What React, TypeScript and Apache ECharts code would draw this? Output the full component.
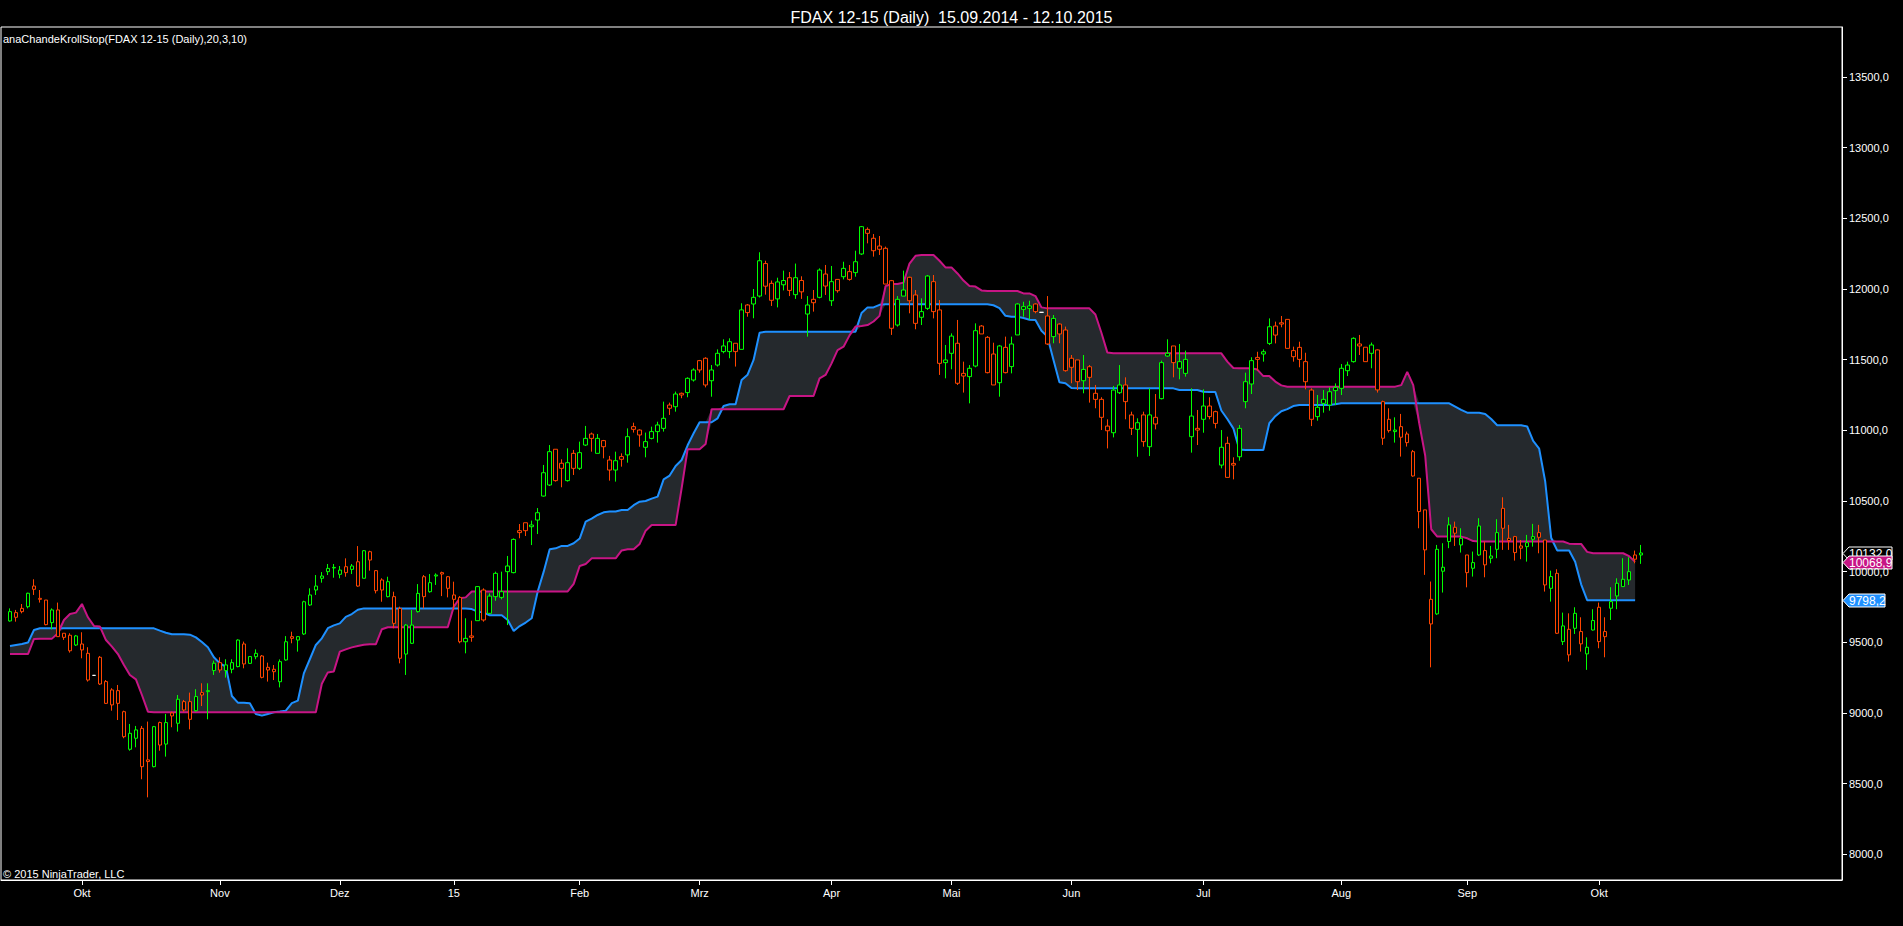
import React, { useEffect, useRef } from "react";
import * as echarts from "echarts";

const TITLE = "FDAX 12-15 (Daily)  15.09.2014 - 12.10.2015";
const INDICATOR_LABEL = "anaChandeKrollStop(FDAX 12-15 (Daily),20,3,10)";
const COPYRIGHT = "\u00a9 2015 NinjaTrader, LLC";

// trading calendar
const FIRST_DAY = [2014, 8, 15];
const LAST_DAY = [2015, 9, 12];
const HOLIDAYS = ["2014-12-24", "2014-12-25", "2014-12-26", "2014-12-31", "2015-01-01", "2015-04-03", "2015-04-06", "2015-05-01"];
// month tick labels (January shows the year)
const MONTH_LABELS = ["15", "Feb", "Mrz", "Apr", "Mai", "Jun", "Jul", "Aug", "Sep", "Okt", "Nov", "Dez"];
const PRICE_TICKS = [8000, 8500, 9000, 9500, 10000, 10500, 11000, 11500, 12000, 12500, 13000, 13500];

// candles: [open, close, low, high]
const sep14 = [
  [9651, 9717, 9646, 9740], [9710, 9677, 9646, 9729], [9740, 9717, 9705, 9771], [9752, 9847, 9740, 9851],
  [9898, 9875, 9835, 9946], [9811, 9804, 9781, 9870], [9799, 9625, 9620, 9799], [9639, 9729, 9592, 9740],
  [9729, 9540, 9540, 9781], [9564, 9535, 9517, 9564], [9550, 9440, 9427, 9564], [9481, 9545, 9474, 9552],
];
const oct14 = [
  [9488, 9446, 9387, 9571], [9422, 9233, 9222, 9465], [9266, 9266, 9264, 9268], [9394, 9205, 9198, 9403],
  [9222, 9068, 9064, 9233], [9163, 9057, 9016, 9175], [9158, 9068, 8950, 9198], [9009, 8832, 8821, 9016],
  [8743, 8856, 8733, 8922], [8821, 8880, 8757, 8908], [8891, 8620, 8531, 8908], [8668, 8656, 8403, 8939],
  [8620, 8903, 8615, 8908], [8932, 8773, 8733, 8939], [8780, 8932, 8691, 8993], [9000, 8979, 8899, 9009],
  [8927, 9097, 8868, 9127], [9080, 9021, 9009, 9092], [9080, 8955, 8884, 9144], [9016, 9116, 9009, 9168],
  [9144, 9127, 9049, 9210], [9151, 9158, 8955, 9210], [9300, 9352, 9269, 9370],
];
const nov14 = [
  [9356, 9304, 9285, 9394], [9300, 9340, 9250, 9380], [9309, 9356, 9281, 9380], [9328, 9516, 9323, 9521],
  [9488, 9347, 9316, 9505], [9351, 9399, 9347, 9403], [9398, 9422, 9380, 9450], [9403, 9252, 9245, 9410],
  [9323, 9304, 9222, 9356], [9309, 9292, 9233, 9339], [9221, 9363, 9181, 9379], [9375, 9504, 9370, 9544],
  [9540, 9528, 9493, 9575], [9516, 9540, 9434, 9544], [9559, 9787, 9552, 9794], [9764, 9835, 9757, 9882],
  [9870, 9898, 9835, 9976], [9953, 9969, 9922, 9997], [10000, 10023, 9976, 10054], [10026, 10030, 9957, 10054],
];
const dec14 = [
  [9981, 10011, 9953, 10040], [10035, 9993, 9964, 10094], [10016, 10040, 9983, 10054], [10070, 9898, 9893, 10181],
  [9953, 10148, 9953, 10153], [10141, 10082, 10007, 10148], [10007, 9865, 9846, 10011], [9941, 9870, 9787, 9953],
  [9823, 9929, 9818, 9964], [9823, 9634, 9599, 9858], [9740, 9387, 9351, 9752], [9417, 9622, 9269, 9629],
  [9493, 9622, 9488, 9728], [9717, 9846, 9710, 9912], [9964, 9823, 9740, 9976], [9858, 9922, 9851, 9983],
  [9969, 9976, 9906, 9988], [9993, 9983, 9827, 10000], [9964, 9882, 9818, 9969],
];
const jan15 = [
  [9835, 9804, 9729, 9929], [9818, 9504, 9493, 9827], [9504, 9528, 9422, 9670], [9545, 9535, 9504, 9653],
  [9653, 9894, 9653, 9898], [9870, 9658, 9646, 9882], [9705, 9827, 9700, 9846], [9823, 9988, 9794, 10000],
  [9818, 9858, 9804, 10000], [10000, 10040, 9622, 10111], [9993, 10228, 9988, 10235], [10290, 10276, 10236, 10337],
  [10346, 10290, 10252, 10346], [10318, 10330, 10188, 10361], [10365, 10417, 10266, 10450], [10535, 10700, 10531, 10755],
  [10613, 10849, 10606, 10896], [10866, 10644, 10637, 10866], [10767, 10731, 10597, 10795], [10644, 10771, 10637, 10873],
  [10837, 10731, 10684, 10861],
];
const feb15 = [
  [10731, 10842, 10719, 10920], [10896, 10943, 10889, 11031], [10974, 10943, 10849, 10984], [10837, 10943, 10837, 10974],
  [10927, 10884, 10802, 10932], [10790, 10719, 10644, 10819], [10719, 10785, 10637, 10849], [10814, 10795, 10743, 10837],
  [10826, 10955, 10771, 11014], [11026, 11007, 10984, 11054], [11002, 10967, 10884, 11007], [10880, 10920, 10809, 10984],
  [10943, 10991, 10936, 11026], [10991, 11038, 10913, 11061], [11014, 11085, 10991, 11203], [11179, 11156, 11109, 11196],
  [11167, 11257, 11132, 11274], [11262, 11250, 11227, 11267], [11267, 11368, 11234, 11375], [11356, 11427, 11345, 11439],
];
const mar15 = [
  [11493, 11427, 11408, 11498], [11510, 11321, 11304, 11517], [11351, 11427, 11238, 11462], [11462, 11545, 11451, 11573],
  [11557, 11597, 11545, 11644], [11557, 11627, 11510, 11651], [11616, 11557, 11451, 11616], [11573, 11852, 11573, 11899],
  [11887, 11833, 11804, 11894], [11894, 11941, 11793, 12000], [11950, 12200, 11940, 12260], [12180, 12020, 11960, 12200],
  [12040, 11920, 11880, 12060], [11930, 12050, 11870, 12080], [12030, 12060, 11990, 12130], [12080, 11990, 11950, 12120],
  [11960, 12080, 11930, 12180], [12060, 11980, 11930, 12090], [11823, 11887, 11663, 11950], [11927, 11903, 11840, 11993],
  [11941, 12134, 11934, 12146], [12106, 12021, 11958, 12170],
];
const apr15 = [
  [11917, 12052, 11880, 12163], [12068, 11988, 11974, 12068], [12087, 12146, 12068, 12193], [12123, 12068, 12059, 12170],
  [12116, 12193, 12087, 12271], [12248, 12441, 12241, 12446], [12422, 12394, 12323, 12436], [12359, 12271, 12229, 12389],
  [12304, 12281, 12241, 12375], [12288, 12035, 12035, 12300], [12059, 11722, 11675, 12064], [11745, 11927, 11734, 11950],
  [11950, 11993, 11950, 12130], [12083, 11917, 11828, 12087], [11958, 11757, 11715, 11993], [11800, 11840, 11745, 11934],
  [11863, 12092, 11852, 12099], [12052, 11840, 11792, 12099], [11852, 11474, 11392, 11922], [11479, 11498, 11368, 11604],
];
const may15 = [
  [11545, 11667, 11432, 11686], [11616, 11333, 11321, 11781], [11403, 11384, 11267, 11486], [11380, 11439, 11191, 11462],
  [11455, 11705, 11446, 11757], [11738, 11682, 11682, 11745], [11658, 11408, 11403, 11667], [11540, 11321, 11321, 11620],
  [11337, 11597, 11238, 11604], [11587, 11408, 11403, 11663], [11451, 11611, 11403, 11663], [11675, 11894, 11675, 11899],
  [11856, 11875, 11804, 11910], [11863, 11880, 11785, 11917], [11894, 11840, 11828, 11899], [11835, 11835, 11833, 11837],
  [11809, 11611, 11604, 11950], [11663, 11792, 11616, 11816], [11752, 11682, 11616, 11757], [11710, 11422, 11415, 11734],
];
const jun15 = [
  [11510, 11446, 11333, 11533], [11498, 11344, 11285, 11498], [11351, 11431, 11262, 11533], [11450, 11375, 11196, 11462],
  [11262, 11219, 11156, 11321], [11219, 11092, 11002, 11234], [11030, 10997, 10872, 11078], [10983, 11285, 10950, 11314],
  [11266, 11321, 11257, 11462], [11321, 11203, 11078, 11375], [11109, 11014, 10967, 11132], [11007, 11054, 10813, 11085],
  [11109, 10920, 10884, 11132], [10884, 11109, 10818, 11297], [11092, 11045, 11007, 11257], [11224, 11479, 11219, 11493],
  [11526, 11545, 11521, 11644], [11597, 11479, 11375, 11597], [11439, 11486, 11361, 11611], [11403, 11502, 11380, 11564],
  [10955, 11101, 10842, 11297], [11014, 11002, 10896, 11144],
];
const jul15 = [
  [11078, 11172, 10983, 11290], [11172, 11097, 11078, 11234], [11132, 11049, 11014, 11139], [10754, 10880, 10731, 11002],
  [10908, 10667, 10667, 10955], [10766, 10754, 10653, 10809], [10813, 11014, 10785, 11038], [11203, 11344, 11156, 11408],
  [11328, 11493, 11257, 11517], [11516, 11502, 11422, 11556], [11540, 11556, 11486, 11573], [11615, 11733, 11604, 11792],
  [11738, 11674, 11615, 11769], [11761, 11752, 11729, 11809], [11785, 11580, 11580, 11785], [11564, 11521, 11486, 11592],
  [11587, 11502, 11446, 11627], [11486, 11344, 11290, 11549], [11285, 11078, 11030, 11297], [11097, 11163, 11068, 11250],
  [11191, 11219, 11125, 11285], [11179, 11273, 11139, 11304], [11281, 11304, 11179, 11332],
];
const aug15 = [
  [11297, 11439, 11250, 11469], [11422, 11462, 11384, 11486], [11486, 11651, 11479, 11658], [11611, 11597, 11533, 11675],
  [11588, 11486, 11486, 11588], [11545, 11604, 11439, 11621], [11569, 11286, 11267, 11573], [11203, 10944, 10897, 11210],
  [11078, 10998, 10984, 11156], [10991, 11002, 10913, 11092], [11026, 10951, 10814, 11116], [10974, 10913, 10885, 10991],
  [10849, 10677, 10672, 10861], [10661, 10425, 10307, 10661], [10437, 10154, 9977, 10437], [9804, 9630, 9323, 9930],
  [9701, 10158, 9694, 10189], [10003, 10031, 9852, 10201], [10213, 10331, 10166, 10385], [10314, 10272, 10182, 10354],
  [10189, 10236, 10135, 10307],
];
const sep15 = [
  [10118, 9993, 9889, 10118], [10024, 10064, 9965, 10142], [10118, 10323, 10111, 10378], [10149, 10048, 9960, 10213],
  [10095, 10111, 10059, 10182], [10158, 10276, 10095, 10371], [10448, 10307, 10154, 10526], [10236, 10220, 10154, 10331],
  [10248, 10135, 10078, 10253], [10182, 10166, 10088, 10224], [10177, 10205, 10071, 10260], [10229, 10248, 10177, 10338],
  [10276, 10243, 10130, 10331], [10224, 9906, 9859, 10224], [9882, 9965, 9788, 10007], [9988, 9564, 9559, 10017],
  [9505, 9616, 9481, 9710], [9592, 9411, 9364, 9705], [9599, 9705, 9559, 9748], [9576, 9489, 9434, 9677],
  [9418, 9465, 9305, 9535], [9587, 9654, 9583, 9734],
];
const oct15 = [
  [9748, 9505, 9458, 9781], [9576, 9540, 9394, 9677], [9741, 9788, 9658, 9890], [9828, 9918, 9734, 9953],
  [9894, 9946, 9894, 10095], [9941, 10000, 9906, 10102], [10118, 10088, 10059, 10149], [10118, 10132, 10055, 10189],
];

// Chande Kroll stop lines (one value per bar, up to the bar before last)
const stopBlue = [
  9474, 9481, 9488, 9498, 9587,
  9599, 9599, 9599, 9599, 9599, 9599, 9599, 9599, 9599, 9599, 9599, 9599, 9599, 9599, 9599, 9599, 9599, 9599, 9599, 9599,
  9583, 9568, 9557, 9557, 9557, 9554, 9535, 9502, 9465, 9394, 9351, 9328,
  9120, 9073, 9073, 9068, 8993, 8981, 8993, 9005, 9010, 9016, 9070, 9087,
  9280, 9380, 9481, 9528, 9600, 9620, 9634, 9680, 9700, 9730,
  9740, 9740, 9740, 9740, 9740, 9740, 9740, 9740, 9740, 9740, 9740, 9740, 9740, 9740, 9740, 9740, 9740, 9740,
  9735, 9717, 9710, 9691, 9691, 9691, 9658, 9580, 9615, 9640, 9670, 9860,
  10000, 10158, 10165, 10182, 10182, 10201, 10234, 10354, 10375, 10401, 10420, 10425,
  10425, 10436, 10436, 10470, 10495, 10500, 10517, 10531, 10653, 10680, 10748, 10790,
  10894, 10979, 11057, 11057, 11057, 11085, 11172, 11184, 11184, 11356, 11394, 11498, 11691,
  11698, 11698, 11698, 11698, 11698, 11698, 11698, 11698, 11698, 11698, 11698, 11698, 11698, 11698, 11698, 11698,
  11830, 11870, 11870, 11888,
  11892, 11892, 11892, 11892, 11892, 11892, 11892, 11892, 11892, 11892, 11892, 11892, 11892, 11892, 11892, 11892, 11892, 11892,
  11885, 11865, 11810, 11804, 11804, 11795, 11783, 11781, 11705, 11663, 11500, 11340, 11333, 11300,
  11297, 11297, 11297, 11297, 11297, 11297, 11297, 11297, 11297, 11297, 11297, 11297, 11297, 11297, 11297, 11297, 11297,
  11285, 11285, 11285, 11285,
  11273, 11271, 11271, 11140, 11080, 11014, 10865,
  10861, 10861, 10861, 10861,
  11050, 11100, 11135, 11150, 11172,
  11179, 11179, 11179, 11179, 11179, 11179,
  11185,
  11191, 11191, 11191, 11191, 11191, 11191, 11191, 11191, 11191, 11191, 11191, 11191, 11191, 11191, 11191, 11191, 11191, 11191, 11191,
  11168, 11145, 11125, 11125, 11125, 11116, 11080,
  11036, 11036, 11036, 11036, 11036,
  11027, 10925, 10870, 10640, 10240, 10150, 10149, 10149, 10070, 9910,
  9798.2, 9798.2, 9798.2, 9798.2, 9798.2, 9798.2, 9798.2, 9798.2, 9798.2,
];
const stopMagenta = [
  9417, 9417, 9417, 9417,
  9524, 9526, 9526, 9526,
  9564, 9658, 9700, 9710, 9771, 9677, 9616, 9611, 9516, 9469, 9417, 9340, 9269, 9238, 9127, 9009,
  9005, 9005, 9005, 9005, 9005, 9005, 9005, 9005, 9005, 9005, 9005, 9005, 9005, 9005,
  9005, 9005, 9005, 9005, 9005, 9005, 9005, 9005, 9005, 9005, 9005, 9005, 9005, 9005,
  9207, 9287, 9294, 9434, 9450, 9464, 9474, 9483, 9486, 9486, 9592,
  9606, 9606, 9606, 9606, 9606, 9606, 9606, 9606, 9606, 9606, 9606,
  9752, 9811, 9818,
  9860, 9860, 9860, 9860, 9860, 9860, 9860, 9860, 9860, 9860, 9860, 9860, 9860, 9860, 9860, 9860, 9860,
  9913, 10040, 10054, 10094, 10094, 10094, 10094, 10094, 10150, 10158, 10158, 10196, 10290,
  10330, 10330, 10330, 10330, 10330,
  10590, 10866, 10866, 10866, 10903,
  11149, 11149, 11149, 11149, 11149, 11149, 11149, 11149, 11149, 11149, 11149, 11149, 11149,
  11243, 11243, 11243, 11243, 11243,
  11368, 11392, 11474, 11568, 11592, 11672, 11734, 11738, 11745, 11770, 11810, 12020, 12035, 12035, 12045, 12180, 12235,
  12241, 12241, 12241,
  12200, 12153, 12153, 12110, 12060, 12021, 12017, 11990,
  11986, 11986, 11986, 11986, 11986, 11986,
  11969, 11969, 11950, 11870,
  11863, 11863, 11863, 11863, 11863, 11863, 11863, 11863,
  11820, 11690, 11550,
  11545, 11545, 11545, 11545, 11545, 11545, 11545, 11545, 11545, 11545, 11545, 11545, 11545, 11545, 11545, 11545, 11545, 11545, 11545,
  11486, 11441, 11439, 11439, 11439, 11430, 11384, 11384, 11345, 11318,
  11309, 11309, 11309, 11309, 11309, 11309, 11309, 11309, 11309, 11309, 11309, 11309, 11309, 11309, 11309, 11309, 11309, 11309, 11309,
  11320, 11413, 11320, 11050, 10820, 10300,
  10248, 10248, 10248, 10248, 10248,
  10236, 10216,
  10213, 10213, 10213, 10213, 10213, 10213, 10213, 10213, 10213, 10213, 10213, 10213, 10213, 10213, 10213,
  10198, 10196, 10196, 10140,
  10130, 10130, 10130, 10130, 10130, 10130,
  10110, 10068.9,
];

const FONT = "Arial, 'Liberation Sans', sans-serif";
const UP = "#00ff00";
const DOWN = "#ff4500";
const BLUE = "#1e90ff";
const MAGENTA = "#c71585";
const BAND = "#25292d";
const LEAD = 1;
const TRAIL = 33;

function tradingDays(): string[] {
  const out: string[] = [];
  const d = new Date(Date.UTC(FIRST_DAY[0], FIRST_DAY[1], FIRST_DAY[2]));
  const end = Date.UTC(LAST_DAY[0], LAST_DAY[1], LAST_DAY[2]);
  while (d.getTime() <= end) {
    const wd = d.getUTCDay();
    const s = d.toISOString().slice(0, 10);
    if (wd !== 0 && wd !== 6 && HOLIDAYS.indexOf(s) < 0) out.push(s);
    d.setUTCDate(d.getUTCDate() + 1);
  }
  return out;
}

const fmt = (v: number) => v.toFixed(1).replace(".", ",");

export default function App() {
  const ref = useRef<HTMLDivElement>(null);
  useEffect(() => {
    if (!ref.current) return;
    const chart = echarts.init(ref.current, undefined, { renderer: "svg" });
    const days = tradingDays();
    const candles = [...sep14, ...oct14, ...nov14, ...dec14, ...jan15, ...feb15, ...mar15, ...apr15, ...may15, ...jun15, ...jul15, ...aug15, ...sep15, ...oct15];
    const categories: string[] = [];
    for (let k = 0; k < LEAD; k++) categories.push("lead" + k);
    days.forEach((d) => categories.push(d));
    for (let k = 0; k < TRAIL; k++) categories.push("pad" + k);

    const monthStart: boolean[] = categories.map((c, i) => {
      const di = i - LEAD;
      if (di <= 0 || di >= days.length) return false;
      return days[di].slice(5, 7) !== days[di - 1].slice(5, 7);
    });
    const monthLabel = (i: number) => {
      const d = days[i - LEAD];
      return d ? MONTH_LABELS[parseInt(d.slice(5, 7), 10) - 1] : "";
    };

    const candleData = candles.map((c, i) => [i + LEAD, c[0], c[1], c[2], c[3]]);
    const blueData = stopBlue.map((v, i) => [i + LEAD, v]);
    const magData = stopMagenta.map((v, i) => [i + LEAD, v]);
    const baseData = stopBlue.map((v, i) => [i + LEAD, Math.min(v, stopMagenta[i])]);
    const bandData = stopBlue.map((v, i) => [i + LEAD, Math.abs(v - stopMagenta[i])]);

    const lastClose = candles[candles.length - 1][1];
    const lastBlue = stopBlue[stopBlue.length - 1];
    const lastMag = stopMagenta[stopMagenta.length - 1];

    const Y_MIN = 7818;
    const Y_MAX = 13854;

    const textGraphics = [
      {
        id: "indicatorLabel",
        type: "text",
        left: 3,
        top: 33,
        style: { text: INDICATOR_LABEL, fill: "#fff", fontSize: 11, fontFamily: FONT },
      },
      {
        id: "copyright",
        type: "text",
        left: 3,
        top: 868,
        style: { text: COPYRIGHT, fill: "#fff", fontSize: 11, fontFamily: FONT },
      },
    ];

    chart.setOption({
      animation: false,
      backgroundColor: "#000",
      textStyle: { fontFamily: FONT },
      title: {
        text: TITLE,
        left: "center",
        top: 4,
        textStyle: { color: "#fff", fontSize: 16, fontWeight: "normal", fontFamily: FONT },
      },
      grid: {
        left: 1,
        top: 27,
        width: 1841,
        height: 853,
        show: true,
        borderColor: "#ffffff",
        borderWidth: 1,
        backgroundColor: "#000",
      },
      xAxis: {
        type: "category",
        data: categories,
        boundaryGap: true,
        axisLine: { show: true, lineStyle: { color: "#fff", width: 1 } },
        axisTick: {
          show: true,
          alignWithLabel: true,
          length: 5,
          interval: (i: number) => monthStart[i],
          lineStyle: { color: "#fff" },
        },
        axisLabel: {
          show: true,
          interval: (i: number) => monthStart[i],
          formatter: (_v: string, i: number) => monthLabel(i),
          color: "#fff",
          fontSize: 11,
          fontFamily: FONT,
          margin: 7,
        },
        splitLine: { show: false },
      },
      yAxis: {
        type: "value",
        position: "right",
        min: Y_MIN,
        max: Y_MAX,
        scale: true,
        axisLine: { show: true, lineStyle: { color: "#fff" } },
        axisTick: { show: true, length: 5, customValues: PRICE_TICKS, lineStyle: { color: "#fff" } },
        axisLabel: {
          show: true,
          customValues: PRICE_TICKS,
          formatter: (v: number) => fmt(v),
          color: "#fff",
          fontSize: 11,
          fontFamily: FONT,
          margin: 7,
        },
        splitLine: { show: false },
      },
      graphic: textGraphics,
      series: [
        {
          name: "base",
          type: "line",
          data: baseData,
          stack: "band",
          symbol: "none",
          silent: true,
          lineStyle: { opacity: 0 },
          z: 1,
        },
        {
          name: "band",
          type: "line",
          data: bandData,
          stack: "band",
          symbol: "none",
          silent: true,
          lineStyle: { opacity: 0 },
          areaStyle: { color: BAND, opacity: 1 },
          z: 1,
        },
        {
          name: "stopBlue",
          type: "line",
          data: blueData,
          symbol: "none",
          lineStyle: { color: BLUE, width: 2 },
          z: 2,
        },
        {
          name: "stopMagenta",
          type: "line",
          data: magData,
          symbol: "none",
          lineStyle: { color: MAGENTA, width: 2 },
          z: 2,
        },
        {
          name: "FDAX",
          type: "candlestick",
          data: candleData,
          encode: { x: 0, y: [1, 2, 3, 4] },
          barWidth: 4,
          z: 3,
          itemStyle: {
            color: "#000",
            color0: "#000",
            borderColor: UP,
            borderColor0: DOWN,
            borderColorDoji: "#ffffff",
            borderWidth: 1,
          },
        },
      ],
    });

    // price tags on the right axis, placed through the value axis
    const tagX = 1843;
    const tags = [
      { v: lastClose, fill: "#000", stroke: "#fff" },
      { v: lastMag, fill: MAGENTA, stroke: "#fff" },
      { v: lastBlue, fill: BLUE, stroke: "#fff" },
    ];
    const tagGraphics = tags.map((t, k) => {
      const y = Math.round(chart.convertToPixel({ yAxisIndex: 0 }, t.v) as number) + 0.5;
      const txt = fmt(t.v);
      const w = txt.length * 7;
      return {
        id: "tag" + k,
        type: "group",
        z: 100 + k,
        children: [
          {
            type: "polygon",
            shape: {
              points: [
                [tagX, y],
                [tagX + 6, y - 6.5],
                [tagX + w, y - 6.5],
                [tagX + w, y + 6.5],
                [tagX + 6, y + 6.5],
              ],
            },
            style: { fill: t.fill, stroke: t.stroke, lineWidth: 1 },
          },
          {
            type: "text",
            x: tagX + 6,
            y: y,
            style: { text: txt, fill: "#fff", fontSize: 12, fontFamily: FONT, verticalAlign: "middle", align: "left" },
          },
        ],
      };
    });
    chart.setOption({ graphic: [...textGraphics, ...tagGraphics] });

    return () => chart.dispose();
  }, []);
  return <div ref={ref} style={{ position: "fixed", left: 0, top: 0, width: 1903, height: 926, background: "#000" }} />;
}
